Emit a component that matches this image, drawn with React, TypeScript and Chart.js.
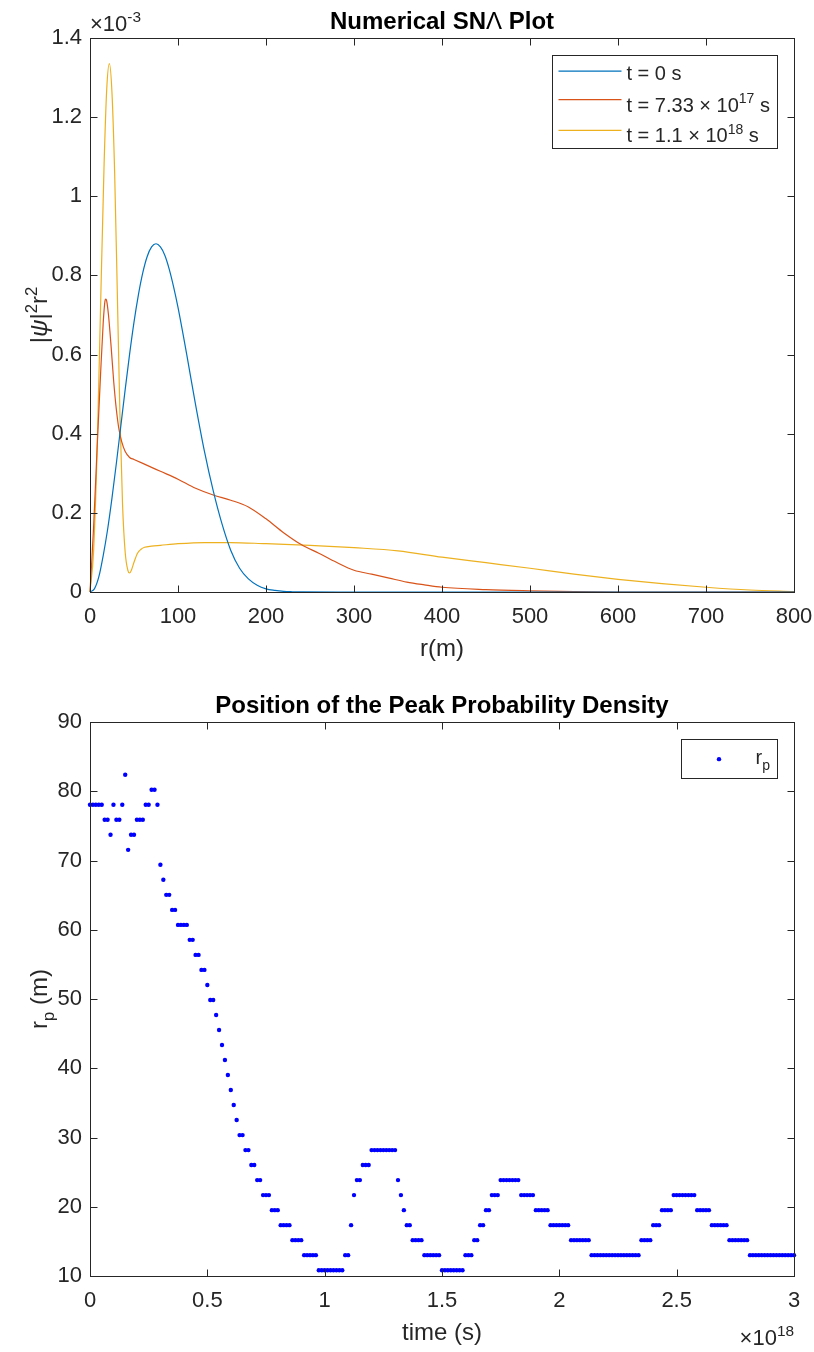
import React, { useEffect, useRef } from "react";
import { Chart, registerables } from "chart.js";

Chart.register(...registerables);

const FONT = '"Liberation Sans", Arial, Helvetica, sans-serif';
const AXIS_COLOR = "#262626";
const CANVAS_W = 814;
const CANVAS_H = 676;

// ---------------- Top chart: |psi|^2 r^2 (units of 1e-3) versus r (m) ----------------
const rBlue = [0, 5, 10, 15, 20, 25, 30, 35, 40, 45, 50, 55, 60, 65, 70, 75, 80, 85, 90, 95, 100, 110, 120, 130, 140, 150, 160, 170, 180, 190, 200, 210, 220, 230, 240, 300, 400, 500, 600, 700, 800];
const densityBlue = [0, 0.008, 0.038, 0.092, 0.158, 0.238, 0.326, 0.419, 0.512, 0.601, 0.682, 0.751, 0.807, 0.848, 0.872, 0.88, 0.872, 0.851, 0.816, 0.771, 0.719, 0.599, 0.473, 0.356, 0.256, 0.172, 0.105, 0.06, 0.033, 0.017, 0.008, 0.004, 0.0015, 0.0006, 0.0002, 0, 0, 0, 0, 0, 0];

const rOrange = [0, 4, 8, 12, 15, 17, 18, 19, 21, 24, 27, 30, 33, 36, 40, 45, 50, 60, 70, 80, 100, 120, 140, 160, 180, 200, 220, 240, 260, 280, 300, 320, 340, 360, 380, 400, 450, 500, 550, 600, 700, 800];
const densityOrange = [0, 0.16, 0.36, 0.55, 0.68, 0.735, 0.74, 0.735, 0.7, 0.62, 0.53, 0.46, 0.41, 0.38, 0.355, 0.34, 0.335, 0.325, 0.315, 0.305, 0.285, 0.262, 0.245, 0.232, 0.215, 0.185, 0.15, 0.12, 0.098, 0.075, 0.055, 0.045, 0.035, 0.025, 0.018, 0.012, 0.006, 0.003, 0.001, 0, 0, 0];

const rYellow = [0, 4, 8, 12, 16, 19, 22, 25, 28, 31, 34, 37, 40, 43, 45, 47, 50, 54, 58, 62, 70, 80, 100, 130, 160, 200, 250, 300, 350, 400, 450, 500, 550, 600, 650, 700, 750, 800];
const densityYellow = [0, 0.1, 0.35, 0.72, 1.08, 1.27, 1.335, 1.26, 1.06, 0.76, 0.45, 0.22, 0.1, 0.055, 0.048, 0.055, 0.075, 0.098, 0.108, 0.113, 0.116, 0.118, 0.122, 0.125, 0.125, 0.122, 0.118, 0.112, 0.104, 0.088, 0.074, 0.06, 0.045, 0.032, 0.021, 0.012, 0.005, 0.001];

const topSeriesLabels = ["t = 0 s", "t = 7.33 × 10^{17} s", "t = 1.1 × 10^{18} s"];
const topSeriesColors = ["#0072BD", "#D95319", "#EDB120"];
const topXTicks = [0, 100, 200, 300, 400, 500, 600, 700, 800];
const topYTicks = [0, 0.2, 0.4, 0.6, 0.8, 1, 1.2, 1.4];

// ---------------- Bottom chart: peak position r_p (m) versus time (units of 1e18 s) ----------------
const timeValues = [
  0, 0.0125, 0.025, 0.0375, 0.05, 0.0625, 0.075, 0.0875,
  0.1, 0.1125, 0.125, 0.1375, 0.15, 0.1625, 0.175, 0.1875,
  0.2, 0.2125, 0.225, 0.2375, 0.25, 0.2625, 0.275, 0.2875,
  0.3, 0.3125, 0.325, 0.3375, 0.35, 0.3625, 0.375, 0.3875,
  0.4, 0.4125, 0.425, 0.4375, 0.45, 0.4625, 0.475, 0.4875,
  0.5, 0.5125, 0.525, 0.5375, 0.55, 0.5625, 0.575, 0.5875,
  0.6, 0.6125, 0.625, 0.6375, 0.65, 0.6625, 0.675, 0.6875,
  0.7, 0.7125, 0.725, 0.7375, 0.75, 0.7625, 0.775, 0.7875,
  0.8, 0.8125, 0.825, 0.8375, 0.85, 0.8625, 0.875, 0.8875,
  0.9, 0.9125, 0.925, 0.9375, 0.95, 0.9625, 0.975, 0.9875,
  1, 1.0125, 1.025, 1.0375, 1.05, 1.0625, 1.075, 1.0875,
  1.1, 1.1125, 1.125, 1.1375, 1.15, 1.1625, 1.175, 1.1875,
  1.2, 1.2125, 1.225, 1.2375, 1.25, 1.2625, 1.275, 1.2875,
  1.3, 1.3125, 1.325, 1.3375, 1.35, 1.3625, 1.375, 1.3875,
  1.4, 1.4125, 1.425, 1.4375, 1.45, 1.4625, 1.475, 1.4875,
  1.5, 1.5125, 1.525, 1.5375, 1.55, 1.5625, 1.575, 1.5875,
  1.6, 1.6125, 1.625, 1.6375, 1.65, 1.6625, 1.675, 1.6875,
  1.7, 1.7125, 1.725, 1.7375, 1.75, 1.7625, 1.775, 1.7875,
  1.8, 1.8125, 1.825, 1.8375, 1.85, 1.8625, 1.875, 1.8875,
  1.9, 1.9125, 1.925, 1.9375, 1.95, 1.9625, 1.975, 1.9875,
  2, 2.0125, 2.025, 2.0375, 2.05, 2.0625, 2.075, 2.0875,
  2.1, 2.1125, 2.125, 2.1375, 2.15, 2.1625, 2.175, 2.1875,
  2.2, 2.2125, 2.225, 2.2375, 2.25, 2.2625, 2.275, 2.2875,
  2.3, 2.3125, 2.325, 2.3375, 2.35, 2.3625, 2.375, 2.3875,
  2.4, 2.4125, 2.425, 2.4375, 2.45, 2.4625, 2.475, 2.4875,
  2.5, 2.5125, 2.525, 2.5375, 2.55, 2.5625, 2.575, 2.5875,
  2.6, 2.6125, 2.625, 2.6375, 2.65, 2.6625, 2.675, 2.6875,
  2.7, 2.7125, 2.725, 2.7375, 2.75, 2.7625, 2.775, 2.7875,
  2.8, 2.8125, 2.825, 2.8375, 2.85, 2.8625, 2.875, 2.8875,
  2.9, 2.9125, 2.925, 2.9375, 2.95, 2.9625, 2.975, 2.9875,
  3,
];
const peakRadius = [
  78.05, 78.05, 78.05, 78.05, 78.05, 75.88, 75.88, 73.71, 78.05, 75.88,
  75.88, 78.05, 82.38, 71.54, 73.71, 73.71, 75.88, 75.88, 75.88, 78.05,
  78.05, 80.22, 80.22, 78.05, 69.38, 67.21, 65.04, 65.04, 62.87, 62.87,
  60.7, 60.7, 60.7, 60.7, 58.54, 58.54, 56.37, 56.37, 54.2, 54.2,
  52.03, 49.86, 49.86, 47.7, 45.53, 43.36, 41.19, 39.02, 36.86, 34.69,
  32.52, 30.35, 30.35, 28.18, 28.18, 26.02, 26.02, 23.85, 23.85, 21.68,
  21.68, 21.68, 19.51, 19.51, 19.51, 17.34, 17.34, 17.34, 17.34, 15.18,
  15.18, 15.18, 15.18, 13.01, 13.01, 13.01, 13.01, 13.01, 10.84, 10.84,
  10.84, 10.84, 10.84, 10.84, 10.84, 10.84, 10.84, 13.01, 13.01, 17.34,
  21.68, 23.85, 23.85, 26.02, 26.02, 26.02, 28.18, 28.18, 28.18, 28.18,
  28.18, 28.18, 28.18, 28.18, 28.18, 23.85, 21.68, 19.51, 17.34, 17.34,
  15.18, 15.18, 15.18, 15.18, 13.01, 13.01, 13.01, 13.01, 13.01, 13.01,
  10.84, 10.84, 10.84, 10.84, 10.84, 10.84, 10.84, 10.84, 13.01, 13.01,
  13.01, 15.18, 15.18, 17.34, 17.34, 19.51, 19.51, 21.68, 21.68, 21.68,
  23.85, 23.85, 23.85, 23.85, 23.85, 23.85, 23.85, 21.68, 21.68, 21.68,
  21.68, 21.68, 19.51, 19.51, 19.51, 19.51, 19.51, 17.34, 17.34, 17.34,
  17.34, 17.34, 17.34, 17.34, 15.18, 15.18, 15.18, 15.18, 15.18, 15.18,
  15.18, 13.01, 13.01, 13.01, 13.01, 13.01, 13.01, 13.01, 13.01, 13.01,
  13.01, 13.01, 13.01, 13.01, 13.01, 13.01, 13.01, 13.01, 15.18, 15.18,
  15.18, 15.18, 17.34, 17.34, 17.34, 19.51, 19.51, 19.51, 19.51, 21.68,
  21.68, 21.68, 21.68, 21.68, 21.68, 21.68, 21.68, 19.51, 19.51, 19.51,
  19.51, 19.51, 17.34, 17.34, 17.34, 17.34, 17.34, 17.34, 15.18, 15.18,
  15.18, 15.18, 15.18, 15.18, 15.18, 13.01, 13.01, 13.01, 13.01, 13.01,
  13.01, 13.01, 13.01, 13.01, 13.01, 13.01, 13.01, 13.01, 13.01, 13.01,
  13.01,
];
const bottomSeriesLabel = "r_{p}";
const bottomSeriesColor = "#0000FF";
const bottomXTicks = [0, 0.5, 1, 1.5, 2, 2.5, 3];
const bottomYTicks = [10, 20, 30, 40, 50, 60, 70, 80, 90];

// ---------------- rich text helpers ----------------
type Seg = { t: string; sup?: boolean; sub?: boolean; it?: boolean; bold?: boolean };

function parseRich(s: string): Seg[] {
  const segs: Seg[] = [];
  let buf = "";
  let i = 0;
  while (i < s.length) {
    const c = s[i];
    if ((c === "^" || c === "_") && s[i + 1] === "{") {
      if (buf) { segs.push({ t: buf }); buf = ""; }
      const end = s.indexOf("}", i + 2);
      segs.push({ t: s.slice(i + 2, end), sup: c === "^", sub: c === "_" });
      i = end + 1;
    } else {
      buf += c;
      i++;
    }
  }
  if (buf) segs.push({ t: buf });
  return segs;
}

const SCRIPT_SCALE = 0.7;

function segFont(s: Seg, size: number, bold: boolean) {
  const sz = s.sup || s.sub ? size * SCRIPT_SCALE : size;
  const b = s.bold === undefined ? bold : s.bold;
  return `${s.it ? "italic " : ""}${b ? "bold " : ""}${sz}px ${FONT}`;
}

function richWidth(ctx: CanvasRenderingContext2D, segs: Seg[], size: number, bold = false) {
  let w = 0;
  for (const s of segs) {
    ctx.font = segFont(s, size, bold);
    w += ctx.measureText(s.t).width;
  }
  return w;
}

function drawRich(
  ctx: CanvasRenderingContext2D,
  segs: Seg[],
  x: number,
  y: number,
  size: number,
  align: "left" | "center" | "right",
  color: string,
  bold = false
) {
  const w = richWidth(ctx, segs, size, bold);
  let cx = align === "center" ? x - w / 2 : align === "right" ? x - w : x;
  ctx.fillStyle = color;
  ctx.textAlign = "left";
  ctx.textBaseline = "alphabetic";
  for (const s of segs) {
    ctx.font = segFont(s, size, bold);
    const dy = s.sup ? -0.42 * size : s.sub ? 0.28 * size : 0;
    ctx.fillText(s.t, cx, y + dy);
    cx += ctx.measureText(s.t).width;
  }
}

type DecorCfg = {
  title: Seg[];
  xLabel: Seg[];
  yLabel: Seg[];
  exponent: Seg[];
  exponentAt: "topleft" | "bottomright";
  legendKind: "line" | "marker";
};

function makeDecor(cfg: DecorCfg) {
  return {
    id: "matlabDecor",
    afterDatasetsDraw(chart: any) {
      const ctx: CanvasRenderingContext2D = chart.ctx;
      const a = chart.chartArea;
      const xs = chart.scales.x;
      const ys = chart.scales.y;
      const left = Math.round(a.left) + 0.5;
      const right = Math.round(a.right) + 0.5;
      const top = Math.round(a.top) + 0.5;
      const bottom = Math.round(a.bottom) + 0.5;
      const tickLen = 7;
      ctx.save();
      ctx.strokeStyle = AXIS_COLOR;
      ctx.lineWidth = 1;
      ctx.beginPath();
      for (const t of xs.ticks) {
        const px = Math.round(xs.getPixelForValue(t.value)) + 0.5;
        ctx.moveTo(px, bottom);
        ctx.lineTo(px, bottom - tickLen);
        ctx.moveTo(px, top);
        ctx.lineTo(px, top + tickLen);
      }
      for (const t of ys.ticks) {
        const py = Math.round(ys.getPixelForValue(t.value)) + 0.5;
        ctx.moveTo(left, py);
        ctx.lineTo(left + tickLen, py);
        ctx.moveTo(right, py);
        ctx.lineTo(right - tickLen, py);
      }
      ctx.stroke();
      ctx.strokeRect(left, top, right - left, bottom - top);

      const midX = (a.left + a.right) / 2;
      const midY = (a.top + a.bottom) / 2;
      // title
      drawRich(ctx, cfg.title, midX, a.top - 8.7, 24, "center", "#000000", true);
      // x label
      drawRich(ctx, cfg.xLabel, midX, a.bottom + 64, 24, "center", AXIS_COLOR);
      // y label (rotated)
      ctx.save();
      ctx.translate(47, midY);
      ctx.rotate(-Math.PI / 2);
      drawRich(ctx, cfg.yLabel, 0, 0, 24, "center", AXIS_COLOR);
      ctx.restore();
      // exponent
      if (cfg.exponentAt === "topleft") {
        drawRich(ctx, cfg.exponent, a.left, a.top - 6.6, 22, "left", AXIS_COLOR);
      } else {
        drawRich(ctx, cfg.exponent, a.right, a.bottom + 69, 22, "right", AXIS_COLOR);
      }

      // legend
      const size = 20;
      const items = chart.data.datasets.map((ds: any) => ({
        segs: parseRich(ds.label),
        color: cfg.legendKind === "line" ? ds.borderColor : ds.backgroundColor,
      }));
      const padL = 6, lineLen = 63, gap = 5, padR = 8, padV = 2.3;
      let maxW = 0;
      const heights: number[] = [];
      for (const it of items) {
        maxW = Math.max(maxW, richWidth(ctx, it.segs, size));
        const hasSup = it.segs.some((s: Seg) => s.sup);
        const hasSub = it.segs.some((s: Seg) => s.sub);
        heights.push(hasSub ? 34.7 : hasSup ? 30.7 : 26.5);
      }
      const boxW = padL + lineLen + gap + maxW + padR;
      const boxH = 2 * padV + heights.reduce((p, c) => p + c, 0);
      const bRight = Math.round(a.right - 17.3) + 0.5;
      const bTop = Math.round(a.top + 17.4) + 0.5;
      const bLeft = Math.round(bRight - boxW) + 0.5;
      ctx.fillStyle = "#ffffff";
      ctx.fillRect(bLeft, bTop, bRight - bLeft, Math.round(boxH));
      ctx.strokeStyle = AXIS_COLOR;
      ctx.lineWidth = 1;
      ctx.strokeRect(bLeft, bTop, bRight - bLeft, Math.round(boxH));
      let y = bTop + padV;
      items.forEach((it: any, i: number) => {
        const h = heights[i];
        const cy = y + h / 2;
        const x0 = bLeft + padL;
        if (cfg.legendKind === "line") {
          ctx.strokeStyle = it.color;
          ctx.lineWidth = 1.2;
          ctx.beginPath();
          ctx.moveTo(x0, cy);
          ctx.lineTo(x0 + lineLen, cy);
          ctx.stroke();
        } else {
          ctx.fillStyle = it.color;
          ctx.beginPath();
          ctx.arc(x0 + lineLen / 2, cy, 2.2, 0, Math.PI * 2);
          ctx.fill();
        }
        const hasSup = it.segs.some((s: Seg) => s.sup);
        const hasSub = it.segs.some((s: Seg) => s.sub);
        const off = hasSub ? 5 : hasSup ? 12 : 8.5;
        drawRich(ctx, it.segs, x0 + lineLen + gap, cy + off, size, "left", AXIS_COLOR);
        y += h;
      });
      ctx.restore();
    },
  };
}

function fmt(v: number) {
  return String(Number(Number(v).toFixed(4)));
}

function scaleCfg(ticks: number[], axis: "x" | "y", fixedSize: number, pad: number) {
  return {
    type: "linear",
    min: ticks[0],
    max: ticks[ticks.length - 1],
    grid: { display: false, drawTicks: false },
    border: { display: false },
    afterBuildTicks: (s: any) => {
      s.ticks = ticks.map((v) => ({ value: v }));
    },
    afterFit: (s: any) => {
      if (axis === "x") s.height = fixedSize;
      else s.width = fixedSize;
      s.paddingLeft = 0;
      s.paddingRight = 0;
      s.paddingTop = 0;
      s.paddingBottom = 0;
    },
    ticks: {
      font: { family: FONT, size: 22 },
      color: AXIS_COLOR,
      padding: pad,
      maxRotation: 0,
      minRotation: 0,
      autoSkip: false,
      callback: (v: any) => fmt(v),
    },
  };
}

function TopChart() {
  const ref = useRef<HTMLCanvasElement>(null);
  useEffect(() => {
    if (!ref.current) return;
    const rs = [rBlue, rOrange, rYellow];
    const ds = [densityBlue, densityOrange, densityYellow];
    const chart = new Chart(ref.current, {
      type: "line",
      data: {
        datasets: topSeriesLabels.map((label, k) => ({
          label,
          data: rs[k].map((r, i) => ({ x: r, y: ds[k][i] })),
          borderColor: topSeriesColors[k],
          backgroundColor: topSeriesColors[k],
          borderWidth: 1.2,
          pointRadius: 0,
          cubicInterpolationMode: "monotone",
          fill: false,
          clip: false,
        })),
      },
      options: {
        responsive: false,
        animation: false,
        devicePixelRatio: 1,
        events: [],
        layout: { padding: { top: 38, right: 20, left: 0, bottom: 0 } },
        plugins: { legend: { display: false }, title: { display: false }, tooltip: { enabled: false } },
        scales: {
          x: scaleCfg(topXTicks, "x", CANVAS_H - 592, 12),
          y: scaleCfg(topYTicks, "y", 90, 8),
        },
      } as any,
      plugins: [
        makeDecor({
          title: [{ t: "Numerical SN" }, { t: "Λ", bold: false }, { t: " Plot" }],
          xLabel: parseRich("r(m)"),
          yLabel: [{ t: "|" }, { t: "ψ", it: true }, { t: "|" }, { t: "2", sup: true }, { t: "r" }, { t: "2", sup: true }],
          exponent: parseRich("×10^{-3}"),
          exponentAt: "topleft",
          legendKind: "line",
        }) as any,
      ],
    });
    return () => chart.destroy();
  }, []);
  return <canvas ref={ref} width={CANVAS_W} height={CANVAS_H} style={{ display: "block" }} />;
}

function BottomChart() {
  const ref = useRef<HTMLCanvasElement>(null);
  useEffect(() => {
    if (!ref.current) return;
    const chart = new Chart(ref.current, {
      type: "scatter",
      data: {
        datasets: [
          {
            label: bottomSeriesLabel,
            data: timeValues.map((t, i) => ({ x: t, y: peakRadius[i] })),
            backgroundColor: bottomSeriesColor,
            borderColor: bottomSeriesColor,
            borderWidth: 0,
            pointRadius: 2.2,
            pointStyle: "circle",
            clip: false,
          },
        ],
      },
      options: {
        responsive: false,
        animation: false,
        devicePixelRatio: 1,
        events: [],
        layout: { padding: { top: 46, right: 20, left: 0, bottom: 0 } },
        plugins: { legend: { display: false }, title: { display: false }, tooltip: { enabled: false } },
        scales: {
          x: scaleCfg(bottomXTicks, "x", CANVAS_H - 600, 12),
          y: scaleCfg(bottomYTicks, "y", 90, 8),
        },
      } as any,
      plugins: [
        makeDecor({
          title: parseRich("Position of the Peak Probability Density"),
          xLabel: parseRich("time (s)"),
          yLabel: parseRich("r_{p} (m)"),
          exponent: parseRich("×10^{18}"),
          exponentAt: "bottomright",
          legendKind: "marker",
        }) as any,
      ],
    });
    return () => chart.destroy();
  }, []);
  return <canvas ref={ref} width={CANVAS_W} height={CANVAS_H} style={{ display: "block" }} />;
}

export default function App() {
  return (
    <div style={{ position: "absolute", left: 0, top: 0, width: CANVAS_W, height: CANVAS_H * 2, background: "#ffffff" }}>
      <TopChart />
      <BottomChart />
    </div>
  );
}
